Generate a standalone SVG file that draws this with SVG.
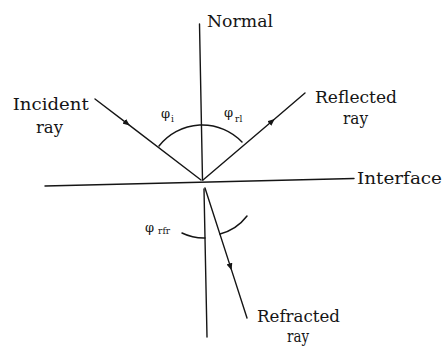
<svg xmlns="http://www.w3.org/2000/svg" width="444" height="347" viewBox="0 0 444 347">
  <style>
    .ln { stroke: #151515; stroke-width: 1.4; fill: none; stroke-linecap: round; }
    .arc { stroke: #151515; stroke-width: 1.5; fill: none; stroke-linecap: round; }
    .lbl { font-family: "DejaVu Serif", "Liberation Serif", serif; font-size: 17px; fill: #151515; }
    .sym { font-family: "DejaVu Serif", "Liberation Serif", serif; font-size: 13px; fill: #151515; }
    .sub { font-size: 9px; }
  </style>
  <defs>
    <marker id="arr" viewBox="0 0 7 6" refX="3.5" refY="3" markerWidth="7" markerHeight="6" markerUnits="userSpaceOnUse" orient="auto">
      <path d="M0,0 L7,3 L0,6 z" fill="#151515"/>
    </marker>
  </defs>
  <rect width="444" height="347" fill="#ffffff"/>

  <g id="normal">
    <line class="ln" x1="199.5" y1="24" x2="202.5" y2="180"/>
    <line class="ln" x1="204" y1="189" x2="207" y2="337"/>
    <text class="lbl" x="207" y="26.5" textLength="66" lengthAdjust="spacingAndGlyphs">Normal</text>
  </g>

  <g id="interface">
    <line class="ln" x1="45" y1="186" x2="354" y2="178.5"/>
    <text class="lbl" x="357" y="183.5" textLength="85" lengthAdjust="spacingAndGlyphs">Interface</text>
  </g>

  <g id="connectors">
    <path id="incident-ray" class="ln" d="M95,99 L127,123.4 L201,180" marker-mid="url(#arr)"/>
    <path id="reflected-ray" class="ln" d="M203,180 L272,121.3 L305,93" marker-mid="url(#arr)"/>
    <path id="refracted-ray" class="ln" d="M205,188 L230.5,266.9 L247,318" marker-mid="url(#arr)"/>
  </g>

  <g id="incident">
    <text class="lbl" x="12.7" y="109.5" textLength="76" lengthAdjust="spacingAndGlyphs">Incident</text>
    <text class="lbl" x="36" y="133" textLength="27" lengthAdjust="spacingAndGlyphs">ray</text>
  </g>

  <g id="reflected">
    <text class="lbl" x="315" y="102.5" textLength="82" lengthAdjust="spacingAndGlyphs">Reflected</text>
    <text class="lbl" x="343" y="124" textLength="25" lengthAdjust="spacingAndGlyphs">ray</text>
  </g>

  <g id="refracted">
    <text class="lbl" x="257" y="321.5" textLength="83" lengthAdjust="spacingAndGlyphs">Refracted</text>
    <text class="lbl" x="287" y="341.5" textLength="22" lengthAdjust="spacingAndGlyphs">ray</text>
  </g>

  <g id="angle-incidence">
    <path class="arc" d="M159,146 A55,55 0 0 1 242,142"/>
    <text class="sym" x="161" y="118">φ<tspan class="sub" dx="1" dy="4">i</tspan></text>
  </g>

  <g id="angle-reflection">
    <text class="sym" x="224" y="117">φ<tspan class="sub" dx="2" dy="5">rl</tspan></text>
  </g>

  <g id="angle-refraction">
    <path class="arc" d="M182,233 A50,50 0 0 0 205,238"/>
    <path class="arc" d="M220,234 A50,50 0 0 0 247,216"/>
    <text class="sym" x="145" y="232">φ<tspan class="sub" dx="4" dy="2">rfr</tspan></text>
  </g>
</svg>
